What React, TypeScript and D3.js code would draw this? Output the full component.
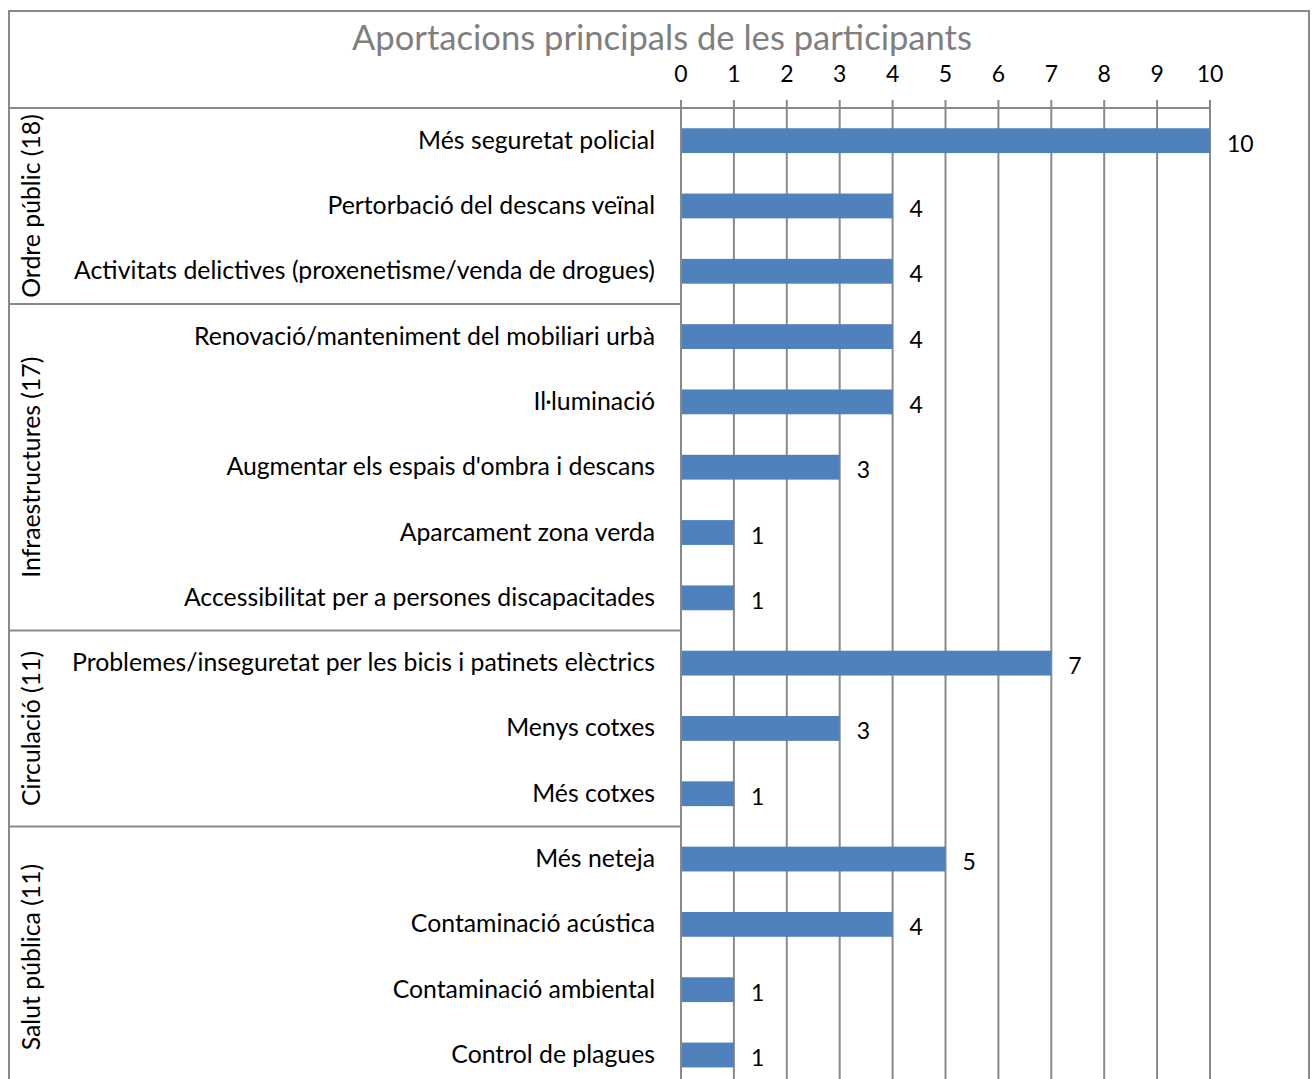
import * as React from 'react'
import * as d3 from 'd3'

// data
const title = 'Aportacions principals de les participants'
const categories = [
    'Més seguretat policial',
    'Pertorbació del descans veïnal',
    'Activitats delictives (proxenetisme/venda de drogues)',
    'Renovació/manteniment del mobiliari urbà',
    'Il·luminació',
    "Augmentar els espais d'ombra i descans",
    'Aparcament zona verda',
    'Accessibilitat per a persones discapacitades',
    'Problemes/inseguretat per les bicis i patinets elèctrics',
    'Menys cotxes',
    'Més cotxes',
    'Més neteja',
    'Contaminació acústica',
    'Contaminació ambiental',
    'Control de plagues',
]
const values = [10, 4, 4, 4, 4, 3, 1, 1, 7, 3, 1, 5, 4, 1, 1]
const groups = ['Ordre públic (18)', 'Infraestructures (17)', 'Circulació (11)', 'Salut pública (11)']
const groupSizes = [3, 5, 3, 4]
const xDomain = [0, 10]

const W = 1312
const H = 1079
const FONT = 'Lato, "Open Sans", sans-serif'
const GRID = '#898989'
const BAR = '#4f81bd'

export default function App () {
    const frame = { left: 9, top: 11, right: 1309 }
    const plotLeft = 681
    const plotRight = 1210
    const axisY = 108
    const step = 65.31
    const bottom = axisY + step * categories.length

    const x = d3.scaleLinear().domain(xDomain).range([plotLeft, plotRight])
    const rows = d3.scaleBand<string>().domain(categories).range([axisY, bottom]).padding(0)
    const barH = rows.bandwidth() * 0.38
    const ticks = x.ticks(10)

    // group boundaries in row units
    let acc = 0
    const groupSpans = groupSizes.map((n, i) => {
        const start = acc
        acc += n
        return { name: groups[i], start, end: acc }
    })
    const yAt = (rowIndex: number) => axisY + rowIndex * rows.step()

    return <svg width={W} height={H}
        style={{ position: 'absolute', left: 0, top: 0, background: '#fff' }}
        fontFamily={FONT}>
        <rect x={0} y={0} width={W} height={H} fill='#fff' />
        {/* outer frame */}
        <rect x={frame.left} y={frame.top} width={frame.right - frame.left} height={bottom + 40 - frame.top}
            fill='none' stroke={GRID} strokeWidth={2} />

        <text x={662} y={50} textAnchor='middle' fontSize={34.6} fill='#7f7f7f'>{title}</text>

        {/* header separator and group separators */}
        <line x1={frame.left} x2={plotLeft} y1={axisY} y2={axisY} stroke={GRID} strokeWidth={2} />
        {groupSpans.slice(1).map(g =>
            <line key={g.name} x1={frame.left} x2={plotLeft} y1={yAt(g.start)} y2={yAt(g.start)}
                stroke={GRID} strokeWidth={2} />)}

        {/* grid and axis */}
        <line x1={plotLeft} x2={plotRight} y1={axisY} y2={axisY} stroke={GRID} strokeWidth={2} />
        {ticks.map(t =>
            <g key={t}>
                <line x1={x(t)} x2={x(t)} y1={axisY - 8} y2={bottom + 40} stroke={GRID} strokeWidth={2} />
                <text x={x(t)} y={82} textAnchor='middle' fontSize={23} fill='#000'>{t}</text>
            </g>)}

        {/* bars */}
        {categories.map((c, i) => {
            const y0 = rows(c)! + (rows.bandwidth() - barH) / 2
            const cy = rows(c)! + rows.bandwidth() / 2
            return <g key={c}>
                <rect x={x(0) + 1} y={y0} width={x(values[i]) - x(0) - 1} height={barH} fill={BAR} />
                <text x={x(values[i]) + 17} y={cy + 11} fontSize={23} fill='#000'>{values[i]}</text>
                <text x={655} y={cy + 8} textAnchor='end' fontSize={24.8} fill='#000'>{c}</text>
            </g>
        })}

        {/* rotated group labels */}
        {groupSpans.map(g => {
            const cy = (yAt(g.start) + yAt(g.end)) / 2
            return <text key={g.name} transform={`translate(40, ${cy}) rotate(-90)`}
                textAnchor='middle' fontSize={24.8} fill='#000'>{g.name}</text>
        })}
    </svg>
}
